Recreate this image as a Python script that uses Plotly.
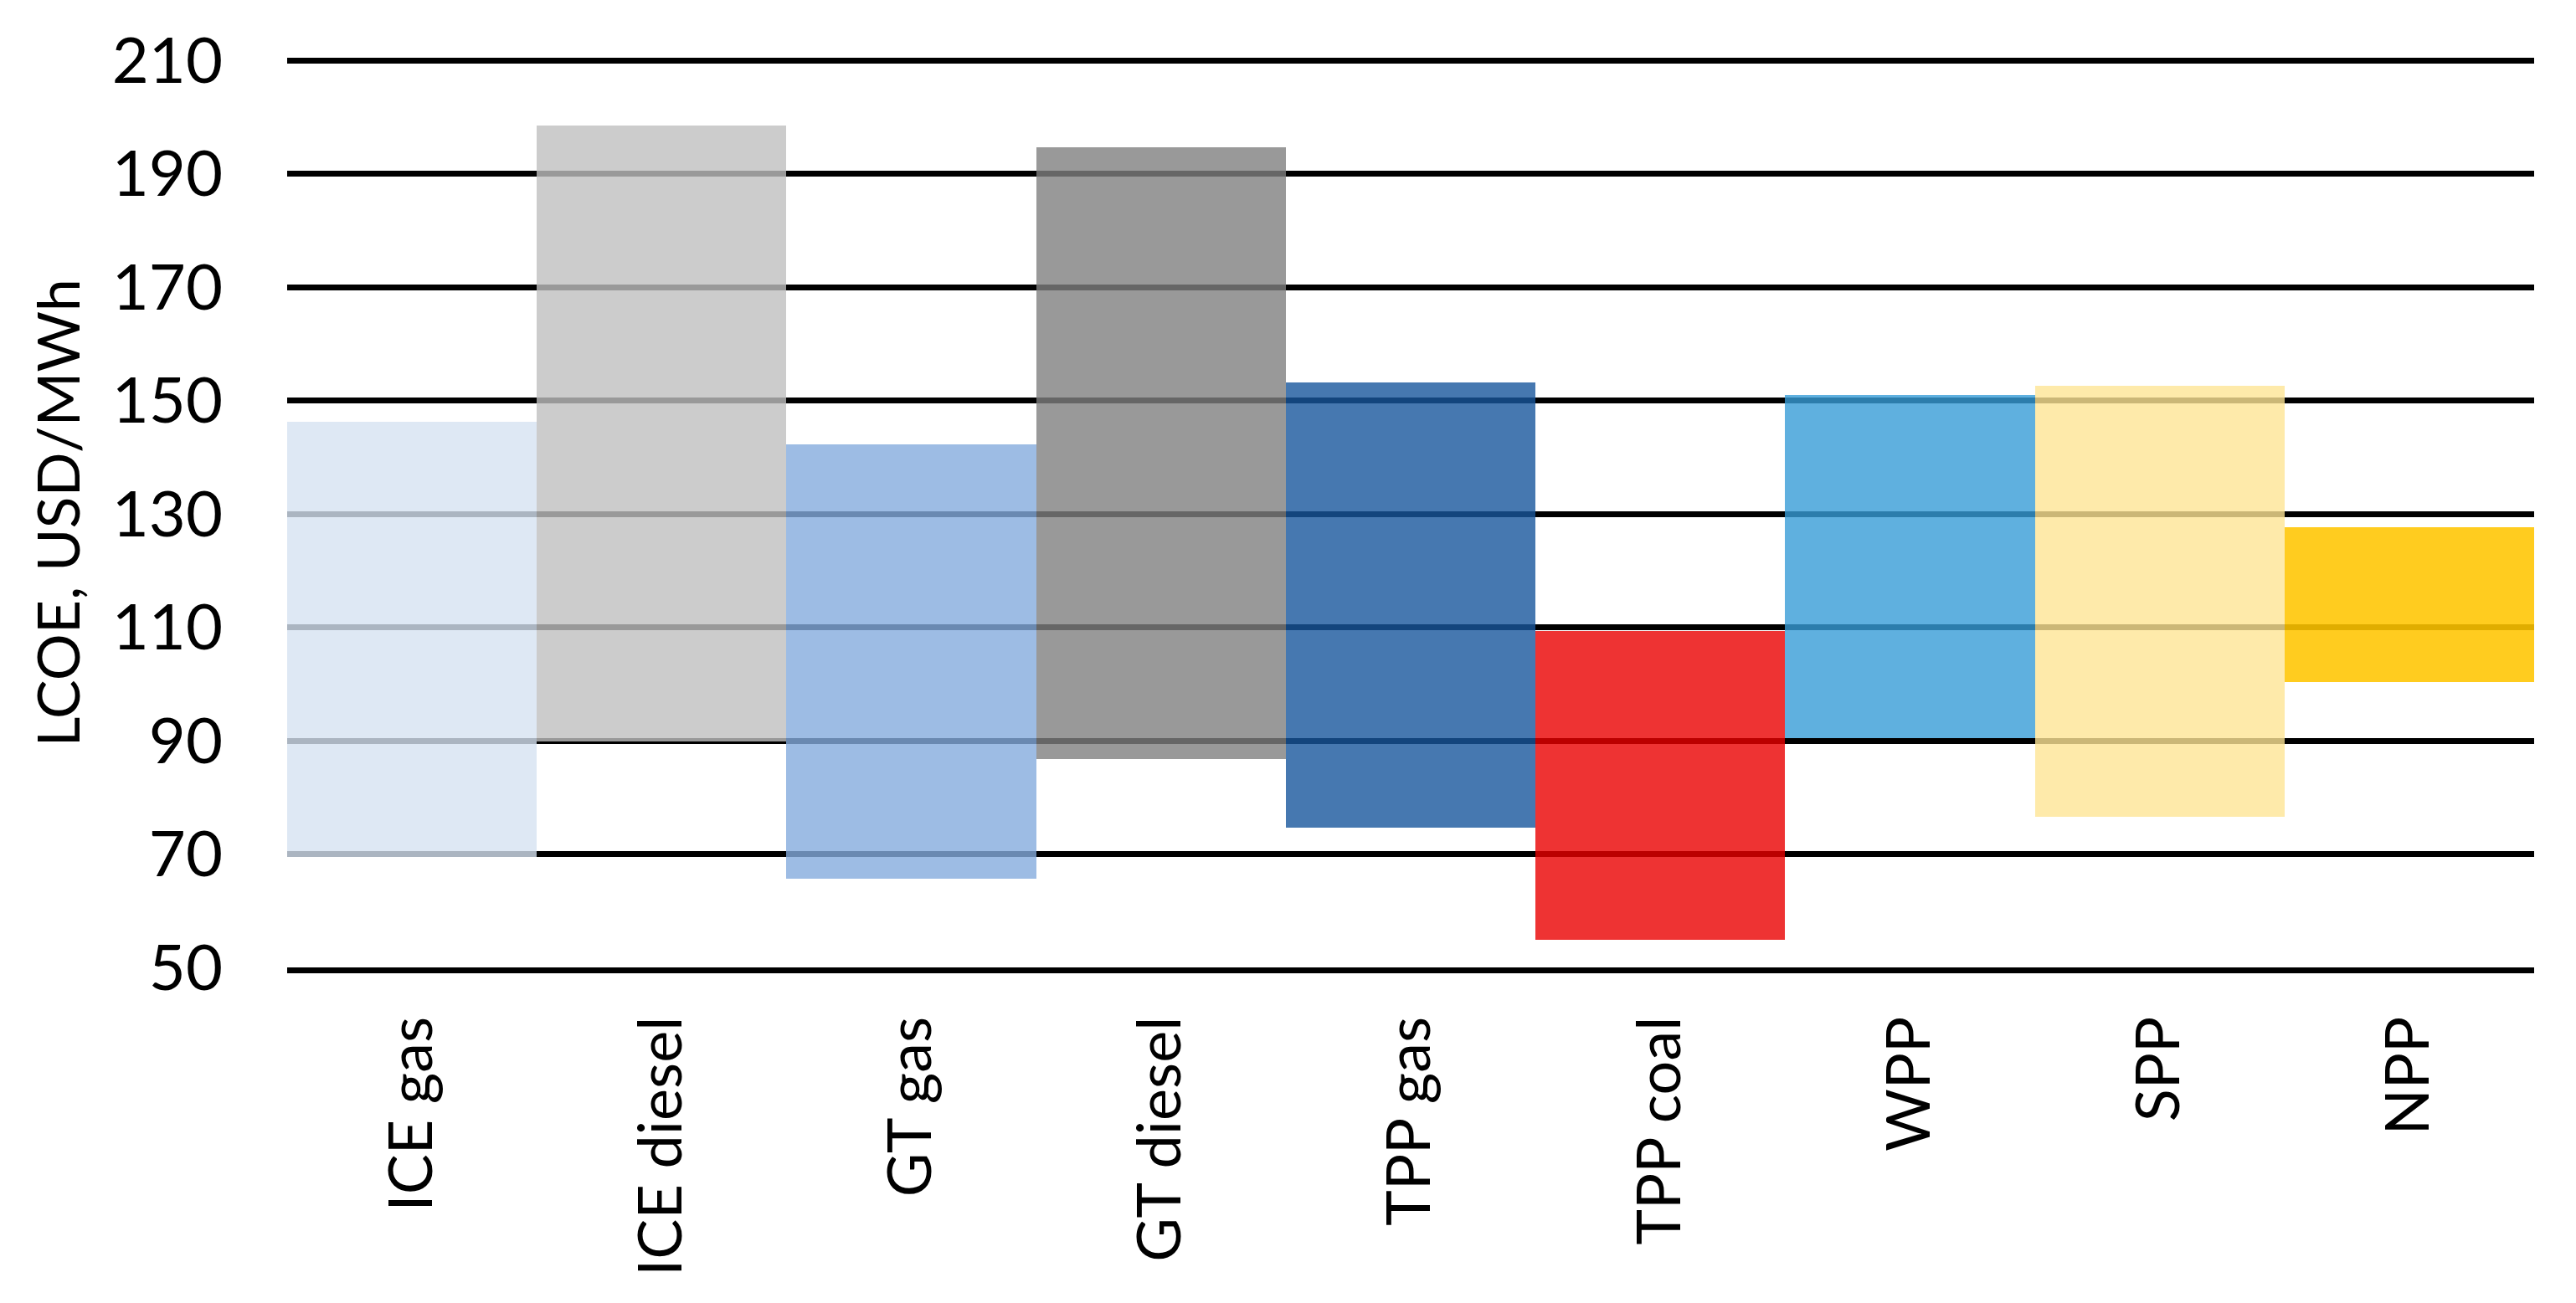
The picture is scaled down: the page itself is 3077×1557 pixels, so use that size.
import plotly.graph_objects as go

categories = ["ICE gas", "ICE diesel", "GT gas", "GT diesel", "TPP gas",
              "TPP coal", "WPP", "SPP", "NPP"]
lcoe_min = [69.5, 89.8, 65.7, 86.8, 74.6, 54.9, 90.5, 76.6, 100.4]
lcoe_max = [146.2, 198.5, 142.3, 194.6, 153.2, 109.3, 150.9, 152.6, 127.7]
y_ticks = [50, 70, 90, 110, 130, 150, 170, 190, 210]

# semi-transparent fills so the black grid lines show through the bars
colors = ["rgba(214,226,241,0.8)", "rgba(191,191,191,0.8)", "rgba(133,171,221,0.8)",
          "rgba(128,128,128,0.8)", "rgba(24,86,156,0.8)", "rgba(234,0,0,0.8)",
          "rgba(55,156,215,0.8)", "rgba(254,229,149,0.8)", "rgba(255,197,0,0.88)"]

FONT = "Lato, 'Open Sans', sans-serif"

fig = go.Figure()
fig.add_trace(go.Bar(
    x=categories,
    y=[hi - lo for lo, hi in zip(lcoe_min, lcoe_max)],
    base=lcoe_min,
    marker=dict(color=colors, line=dict(width=0)),
    showlegend=False,
))

fig.update_layout(
    width=3077, height=1557,
    margin=dict(l=335, r=58, t=62, b=409),
    paper_bgcolor="white", plot_bgcolor="white",
    bargap=0,
    font=dict(family=FONT, color="black", size=72),
    annotations=[dict(
        text="LCOE, USD/MWh", textangle=-90,
        xref="paper", yref="paper", x=-0.1026, y=0.5,
        xanchor="center", yanchor="middle", showarrow=False,
        font=dict(family=FONT, size=70, color="black"),
    )],
)
fig.update_yaxes(
    range=[50, 210.3], tickvals=y_ticks, ticktext=[str(v) for v in y_ticks],
    showgrid=True, gridcolor="black", gridwidth=7,
    zeroline=False, showline=False, ticks="",
    ticklabelstandoff=76,
    tickfont=dict(family=FONT, size=76, color="black"),
)
fig.update_xaxes(
    showgrid=False, zeroline=False,
    showline=True, linecolor="black", linewidth=7,
    tickangle=-90, ticks="", ticklabelstandoff=23,
    tickfont=dict(family=FONT, size=72, color="black"),
)

fig.write_html("out.html")
